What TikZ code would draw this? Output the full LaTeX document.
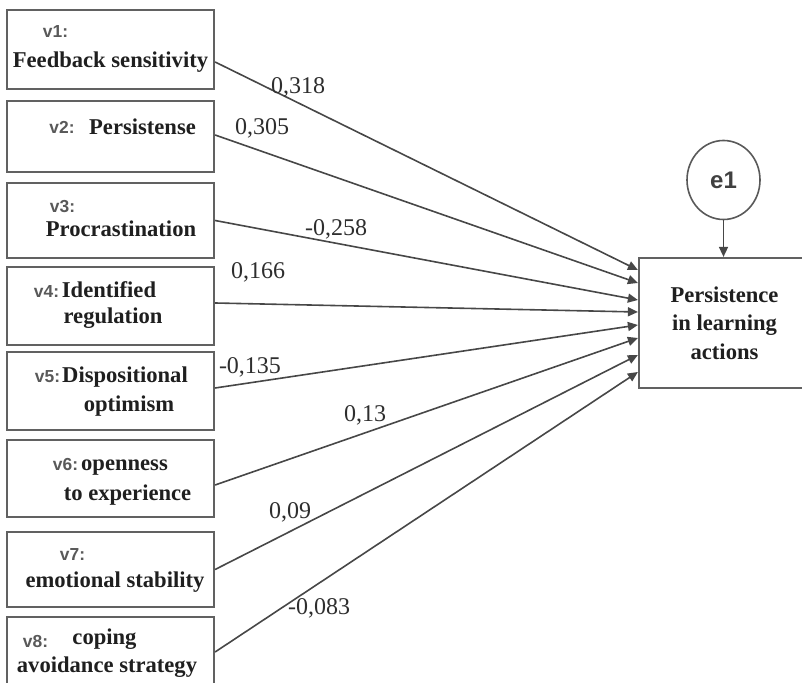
\documentclass[tikz,border=0pt]{standalone}
\usepackage{fontspec}
\setmainfont{Liberation Serif}
\newfontfamily\vsans{Liberation Sans}
\usetikzlibrary{arrows.meta,shapes.geometric}

\begin{document}
\begin{tikzpicture}[x=0.5pt, y=-0.5pt,
  box/.style={draw=black!62, line width=1.1pt, minimum width=103.5pt, inner sep=0pt},
  txt/.style={anchor=base, inner sep=0pt, font=\bfseries\fontsize{11.3}{13}\selectfont, text=black!88},
  vtag/.style={anchor=base, inner sep=0pt, font=\vsans\bfseries\fontsize{8.7}{9}\selectfont, text=black!65},
  coef/.style={inner sep=0pt, font=\fontsize{12}{14}\selectfont, text=black!82},
  link/.style={draw=black!72, line width=0.8pt, -{Triangle[length=5pt,width=4.5pt]}}]
\useasboundingbox (0,0) rectangle (802,683);

% Predictors
\node[box, minimum height=39.5pt] (v1) at (110.5,49.5) {};
\node[vtag] (v1tag) at (55.5,38) {v1:};
\node[txt] (v1txt) at (110.5,68) {Feedback sensitivity};

\node[box, minimum height=35.5pt] (v2) at (110.5,136.5) {};
\node[vtag] (v2tag) at (62,134) {v2:};
\node[txt] (v2txt) at (142.5,135) {Persistense};

\node[box, minimum height=37.5pt] (v3) at (110.5,220.5) {};
\node[vtag] (v3tag) at (62.5,213) {v3:};
\node[txt] (v3txt) at (121,237) {Procrastination};

\node[box, minimum height=39pt] (v4) at (110.5,306) {};
\node[vtag] (v4tag) at (46.5,298) {v4:};
\node[txt] (v4a) at (109,298) {Identified};
\node[txt] (v4b) at (113,324) {regulation};

\node[box, minimum height=39pt] (v5) at (110.5,391) {};
\node[vtag] (v5tag) at (47.5,383) {v5:};
\node[txt] (v5a) at (125,383) {Dispositional};
\node[txt] (v5b) at (129,412) {optimism};

\node[box, minimum height=38.5pt] (v6) at (110.5,478.5) {};
\node[vtag] (v6tag) at (65.5,470) {v6:};
\node[txt] (v6a) at (124.5,470) {openness};
\node[txt] (v6b) at (127.5,500) {to experience};

\node[box, minimum height=37.5pt] (v7) at (110.5,569.5) {};
\node[vtag] (v7tag) at (72.5,560) {v7:};
\node[txt] (v7txt) at (115,587) {emotional stability};

\node[box, minimum height=41.5pt] (v8) at (110.5,658.5) {};
\node[vtag] (v8tag) at (35.5,647) {v8:};
\node[txt] (v8a) at (104.5,644) {coping};
\node[txt] (v8b) at (107,672) {avoidance strategy};

% Outcome and error term
\node[box, minimum width=85.5pt, minimum height=65pt, align=center,
  font=\bfseries\fontsize{11.3}{14.25}\selectfont, text=black!88] (pla) at (724.5,323)
  {Persistence\\in learning\\actions};
\node[ellipse, draw=black!65, line width=0.8pt, minimum width=36.5pt, minimum height=39.5pt,
  font=\vsans\bfseries\fontsize{12}{14}\selectfont, text=black!75] (e1) at (723.5,180) {e1};
\draw[link] (e1.south) -- (e1.south |- pla.north);

% Paths
\draw[link] ([yshift=-6.25pt]v1.east) -- ([yshift=26.5pt]pla.west);
\draw[link] ([yshift=0.75pt]v2.east) -- ([yshift=20pt]pla.west);
\draw[link] (v3.east) -- ([yshift=11.5pt]pla.west);
\draw[link] ([yshift=1.5pt]v4.east) -- ([yshift=5.5pt]pla.west);
\draw[link] ([yshift=1.5pt]v5.east) -- ([yshift=-1pt]pla.west);
\draw[link] ([yshift=-3.25pt]v6.east) -- ([yshift=-7.5pt]pla.west);
\draw[link] (v7.east) -- ([yshift=-16pt]pla.west);
\draw[link] ([yshift=3.25pt]v8.east) -- ([yshift=-24.5pt]pla.west);

% Coefficients
\node[coef] (c1) at (298,87) {0,318};
\node[coef] (c2) at (262,128) {0,305};
\node[coef] (c3) at (336,229) {-0,258};
\node[coef] (c4) at (258,272) {0,166};
\node[coef] (c5) at (250,367) {-0,135};
\node[coef] (c6) at (365,415) {0,13};
\node[coef] (c7) at (290,512) {0,09};
\node[coef] (c8) at (319,608) {-0,083};
\end{tikzpicture}
\end{document}
